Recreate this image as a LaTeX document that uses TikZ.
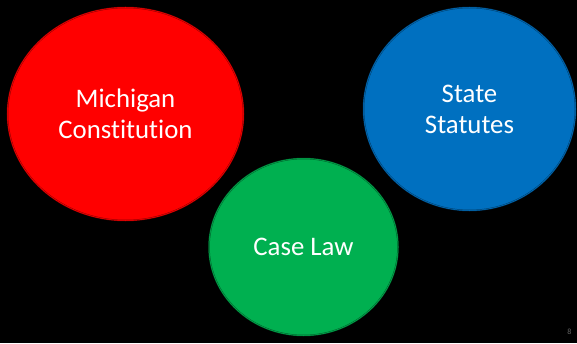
\documentclass[tikz,border=0pt]{standalone}
\usepackage{fontspec}
\setmainfont[Ligatures=NoCommon,RawFeature=-liga]{Carlito}
\usetikzlibrary{shapes.geometric}
\definecolor{cred}{HTML}{FF0000}
\definecolor{cblue}{HTML}{0070C0}
\definecolor{cgreen}{HTML}{00B050}
\tikzset{
  bubble/.style={ellipse, inner sep=0pt, fill=#1, draw=#1!55!black, line width=0.5pt,
    double=#1, double distance=0.5pt, text=white, align=center,
    font=\fontsize{26.8}{31}\selectfont},
}
\begin{document}
\begin{tikzpicture}[x=1pt,y=1pt]
\fill[black] (0,0) rectangle (577,343);
\useasboundingbox (0,0) rectangle (577,343);
\node[bubble=cred, minimum width=236pt, minimum height=213pt] (mc) at (125.5,229) {Michigan\\Constitution};
\node[bubble=cblue, minimum width=212pt, minimum height=203pt] (ss) at (469.5,234) {State\\Statutes};
\node[bubble=cgreen, minimum width=189pt, minimum height=177pt] (cl) at (303.5,96) {Case Law};
\node[text=black!60!white, font=\fontsize{8}{9}\selectfont, inner sep=0pt] (pg) at (569.5,11) {8};
\end{tikzpicture}
\end{document}
